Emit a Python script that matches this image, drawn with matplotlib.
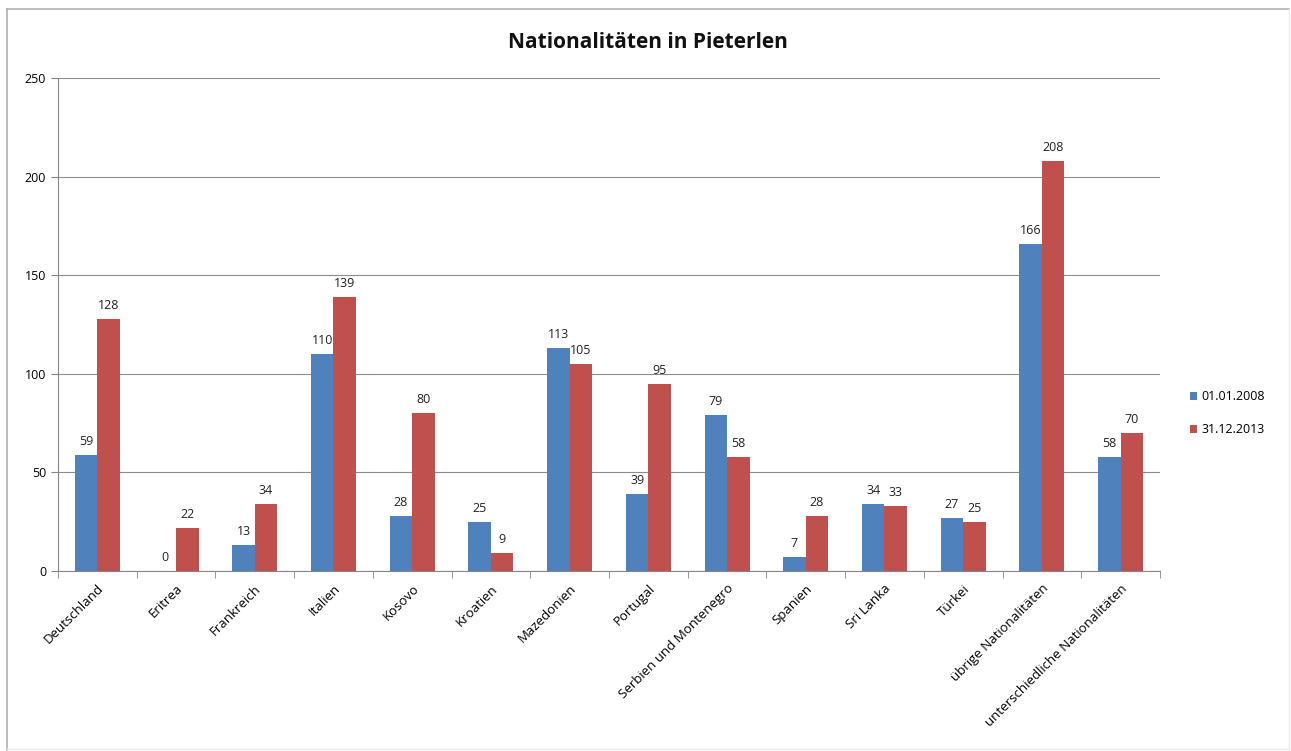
import matplotlib
matplotlib.use("Agg")
import matplotlib.pyplot as plt
from matplotlib.lines import Line2D
import numpy as np

plt.rcParams['font.family'] = ['Open Sans', 'DejaVu Sans']

# data
categories = ["Deutschland", "Eritrea", "Frankreich", "Italien", "Kosovo", "Kroatien",
              "Mazedonien", "Portugal", "Serbien und Montenegro", "Spanien", "Sri Lanka",
              "Türkei", "übrige Nationalitäten", "unterschiedliche Nationalitäten"]
values_2008 = [59, 0, 13, 110, 28, 25, 113, 39, 79, 7, 34, 27, 166, 58]
values_2013 = [128, 22, 34, 139, 80, 9, 105, 95, 58, 28, 33, 25, 208, 70]
series_names = ["01.01.2008", "31.12.2013"]

blue = "#4F81BD"
red = "#C0504D"

fig = plt.figure(figsize=(12.91, 7.51), dpi=100)
ax = fig.add_axes([0.0449, 0.2397, 0.8536, 0.6564])

x = np.arange(len(categories))
w = 1 / 3.5  # gap width 150%
b1 = ax.bar(x - w / 2, values_2008, w, color=blue, label=series_names[0], zorder=3)
b2 = ax.bar(x + w / 2, values_2013, w, color=red, label=series_names[1], zorder=3)

for bars in (b1, b2):
    for rect in bars:
        h = rect.get_height()
        ax.annotate(f"{int(h)}", (rect.get_x() + rect.get_width() / 2, h),
                    xytext=(0, 5), textcoords="offset points",
                    ha="center", va="bottom", fontsize=9, color="#222222")

ax.set_xlim(-0.5, len(categories) - 0.5)
ax.set_ylim(0, 250)
ax.set_yticks(range(0, 251, 50))
ax.yaxis.grid(True, color="#8C8C8C", linewidth=0.8, zorder=0)

ax.set_xticks(x)
ax.set_xticklabels(categories, rotation=45, ha="right", rotation_mode="anchor", fontsize=9.5)
ax.tick_params(axis="x", length=0, pad=8)
# category boundary ticks
ax.set_xticks(np.arange(-0.5, len(categories), 1), minor=True)
ax.tick_params(axis="x", which="minor", length=5, color="#868686")
ax.tick_params(axis="y", length=5, color="#868686", labelsize=9)

for side in ("top", "right"):
    ax.spines[side].set_visible(False)
ax.spines["left"].set_color("#868686")
ax.spines["bottom"].set_color("#868686")

fig.text(0.502, 0.944, "Nationalitäten in Pieterlen", ha="center", va="center",
         fontsize=15, fontweight="bold", color="#111111")

fig.legend(handles=[b1, b2], loc="center left", bbox_to_anchor=(0.913, 0.45),
           frameon=False, fontsize=9, handlelength=0.6, handleheight=0.6,
           labelspacing=1.6, handletextpad=0.3)

# outer chart frame: darker top/left, faint right/bottom
fig.add_artist(Line2D([0.0055, 0.9985], [0.988, 0.988], transform=fig.transFigure,
                      color="#B0B0B0", linewidth=1.2))
fig.add_artist(Line2D([0.0055, 0.0055], [0.0, 0.988], transform=fig.transFigure,
                      color="#B0B0B0", linewidth=1.2))
fig.add_artist(Line2D([0.9985, 0.9985], [0.0, 0.988], transform=fig.transFigure,
                      color="#EBEBEB", linewidth=1.0))
fig.add_artist(Line2D([0.0055, 0.9985], [0.002, 0.002], transform=fig.transFigure,
                      color="#EBEBEB", linewidth=1.0))

fig.savefig("out.png", dpi=100)
